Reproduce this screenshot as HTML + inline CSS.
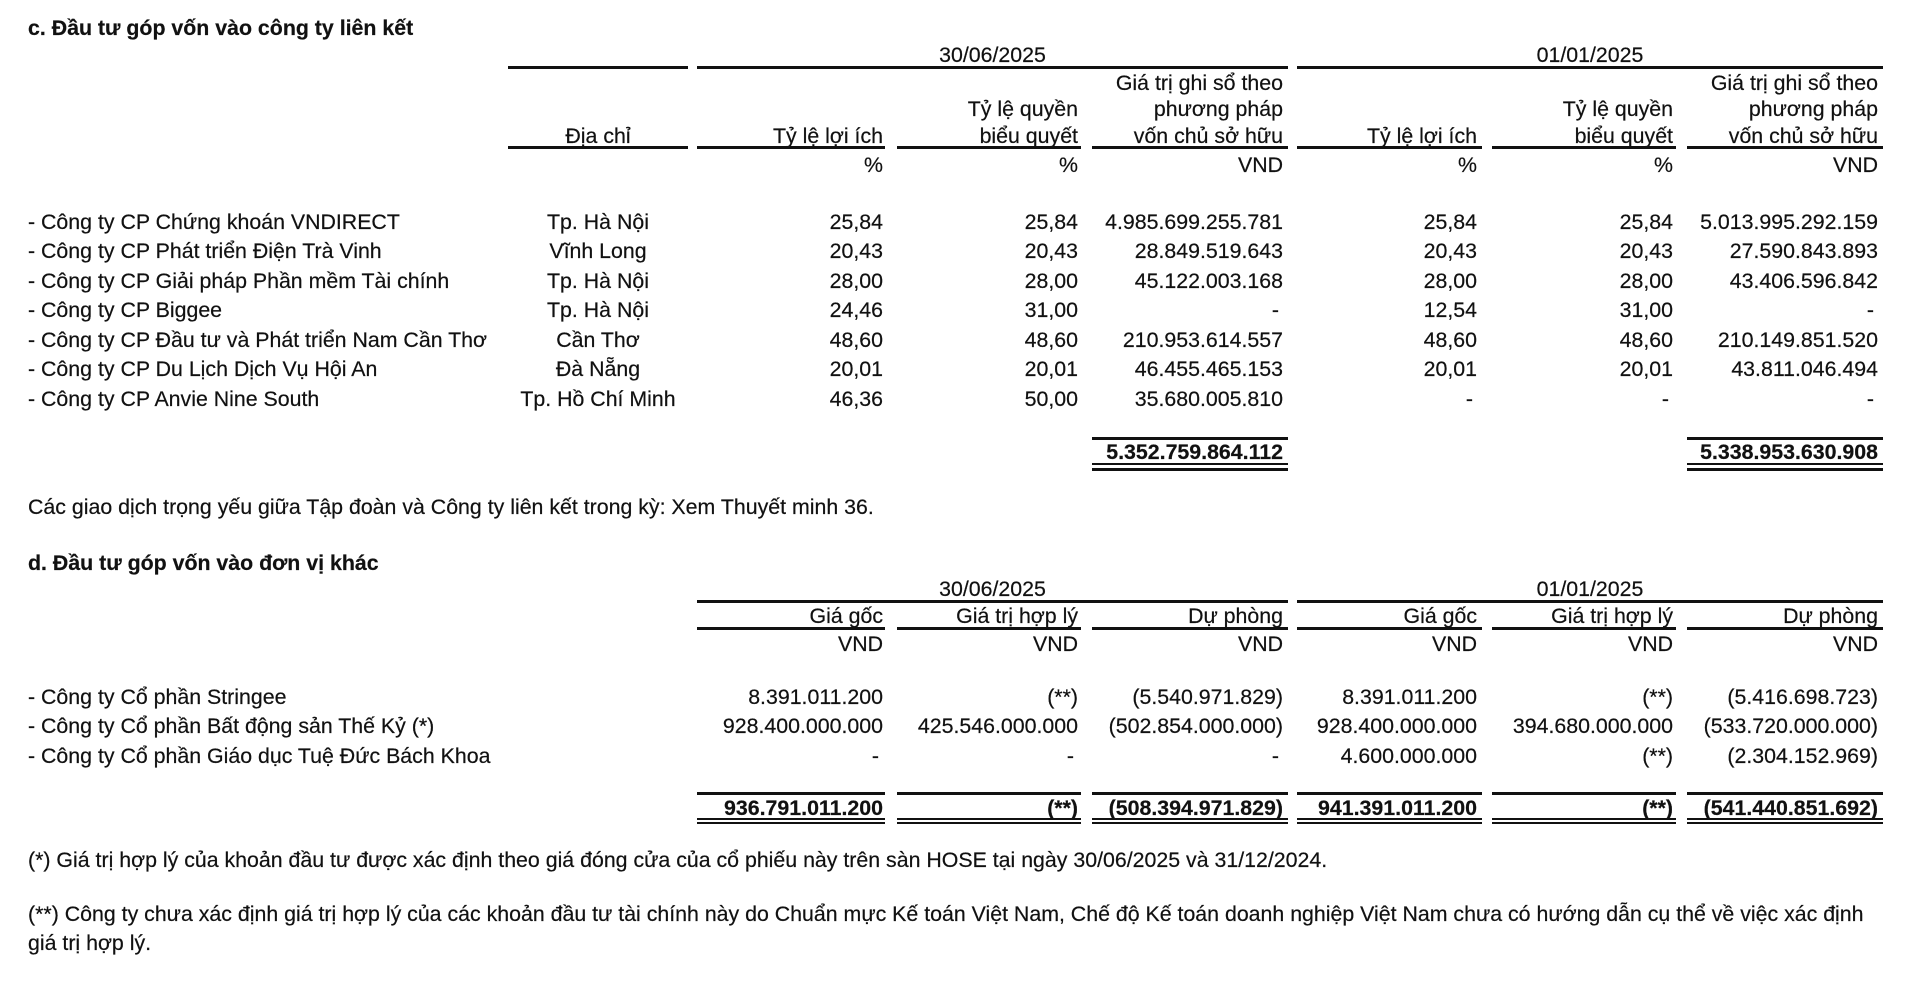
<!DOCTYPE html>
<html><head><meta charset="utf-8">
<style>
html,body{margin:0;padding:0;background:#fff;}
#w{position:relative;width:1920px;height:981px;overflow:hidden;background:#fff;}
.t{position:absolute;font-family:"Liberation Sans",Arial,sans-serif;font-size:21.33px;line-height:24px;white-space:nowrap;color:#111;-webkit-text-stroke:0.2px #111;}
.b{font-weight:bold;}
.c{text-align:center;}
.l{position:absolute;background:#111;}
</style></head><body><div id="w">

<!-- Section c -->
<div class="t b" style="left:28px;top:16px">c. Đầu tư góp vốn vào công ty liên kết</div>

<div class="t c" style="left:697px;width:591px;top:43px">30/06/2025</div>
<div class="t c" style="left:1297px;width:586px;top:43px">01/01/2025</div>
<div class="l" style="left:508px;width:180px;top:66px;height:3px"></div>
<div class="l" style="left:697px;width:591px;top:66px;height:3px"></div>
<div class="l" style="left:1297px;width:586px;top:66px;height:3px"></div>

<div class="t" style="right:637px;top:71px">Giá trị ghi sổ theo</div>
<div class="t" style="right:42px;top:71px">Giá trị ghi sổ theo</div>
<div class="t" style="right:842px;top:97px">Tỷ lệ quyền</div>
<div class="t" style="right:637px;top:97px">phương pháp</div>
<div class="t" style="right:247px;top:97px">Tỷ lệ quyền</div>
<div class="t" style="right:42px;top:97px">phương pháp</div>
<div class="t c" style="left:508px;width:180px;top:124px">Địa chỉ</div>
<div class="t" style="right:1037px;top:124px">Tỷ lệ lợi ích</div>
<div class="t" style="right:842px;top:124px">biểu quyết</div>
<div class="t" style="right:637px;top:124px">vốn chủ sở hữu</div>
<div class="t" style="right:443px;top:124px">Tỷ lệ lợi ích</div>
<div class="t" style="right:247px;top:124px">biểu quyết</div>
<div class="t" style="right:42px;top:124px">vốn chủ sở hữu</div>

<div class="l" style="left:508px;width:180px;top:146px;height:3px"></div>
<div class="l" style="left:697px;width:188px;top:146px;height:3px"></div>
<div class="l" style="left:897px;width:184px;top:146px;height:3px"></div>
<div class="l" style="left:1092px;width:196px;top:146px;height:3px"></div>
<div class="l" style="left:1297px;width:185px;top:146px;height:3px"></div>
<div class="l" style="left:1492px;width:184px;top:146px;height:3px"></div>
<div class="l" style="left:1687px;width:196px;top:146px;height:3px"></div>

<div class="t" style="right:1037px;top:153px">%</div>
<div class="t" style="right:842px;top:153px">%</div>
<div class="t" style="right:637px;top:153px">VND</div>
<div class="t" style="right:443px;top:153px">%</div>
<div class="t" style="right:247px;top:153px">%</div>
<div class="t" style="right:42px;top:153px">VND</div>

<!-- rows c -->
<div class="t" style="left:28px;top:210px">- Công ty CP Chứng khoán VNDIRECT</div>
<div class="t c" style="left:508px;width:180px;top:210px">Tp. Hà Nội</div>
<div class="t" style="right:1037px;top:210px">25,84</div>
<div class="t" style="right:842px;top:210px">25,84</div>
<div class="t" style="right:637px;top:210px">4.985.699.255.781</div>
<div class="t" style="right:443px;top:210px">25,84</div>
<div class="t" style="right:247px;top:210px">25,84</div>
<div class="t" style="right:42px;top:210px">5.013.995.292.159</div>

<div class="t" style="left:28px;top:239px">- Công ty CP Phát triển Điện Trà Vinh</div>
<div class="t c" style="left:508px;width:180px;top:239px">Vĩnh Long</div>
<div class="t" style="right:1037px;top:239px">20,43</div>
<div class="t" style="right:842px;top:239px">20,43</div>
<div class="t" style="right:637px;top:239px">28.849.519.643</div>
<div class="t" style="right:443px;top:239px">20,43</div>
<div class="t" style="right:247px;top:239px">20,43</div>
<div class="t" style="right:42px;top:239px">27.590.843.893</div>

<div class="t" style="left:28px;top:269px">- Công ty CP Giải pháp Phần mềm Tài chính</div>
<div class="t c" style="left:508px;width:180px;top:269px">Tp. Hà Nội</div>
<div class="t" style="right:1037px;top:269px">28,00</div>
<div class="t" style="right:842px;top:269px">28,00</div>
<div class="t" style="right:637px;top:269px">45.122.003.168</div>
<div class="t" style="right:443px;top:269px">28,00</div>
<div class="t" style="right:247px;top:269px">28,00</div>
<div class="t" style="right:42px;top:269px">43.406.596.842</div>

<div class="t" style="left:28px;top:298px">- Công ty CP Biggee</div>
<div class="t c" style="left:508px;width:180px;top:298px">Tp. Hà Nội</div>
<div class="t" style="right:1037px;top:298px">24,46</div>
<div class="t" style="right:842px;top:298px">31,00</div>
<div class="t" style="right:641px;top:298px">-</div>
<div class="t" style="right:443px;top:298px">12,54</div>
<div class="t" style="right:247px;top:298px">31,00</div>
<div class="t" style="right:46px;top:298px">-</div>

<div class="t" style="left:28px;top:328px">- Công ty CP Đầu tư và Phát triển Nam Cần Thơ</div>
<div class="t c" style="left:508px;width:180px;top:328px">Cần Thơ</div>
<div class="t" style="right:1037px;top:328px">48,60</div>
<div class="t" style="right:842px;top:328px">48,60</div>
<div class="t" style="right:637px;top:328px">210.953.614.557</div>
<div class="t" style="right:443px;top:328px">48,60</div>
<div class="t" style="right:247px;top:328px">48,60</div>
<div class="t" style="right:42px;top:328px">210.149.851.520</div>

<div class="t" style="left:28px;top:357px">- Công ty CP Du Lịch Dịch Vụ Hội An</div>
<div class="t c" style="left:508px;width:180px;top:357px">Đà Nẵng</div>
<div class="t" style="right:1037px;top:357px">20,01</div>
<div class="t" style="right:842px;top:357px">20,01</div>
<div class="t" style="right:637px;top:357px">46.455.465.153</div>
<div class="t" style="right:443px;top:357px">20,01</div>
<div class="t" style="right:247px;top:357px">20,01</div>
<div class="t" style="right:42px;top:357px">43.811.046.494</div>

<div class="t" style="left:28px;top:387px">- Công ty CP Anvie Nine South</div>
<div class="t c" style="left:508px;width:180px;top:387px">Tp. Hồ Chí Minh</div>
<div class="t" style="right:1037px;top:387px">46,36</div>
<div class="t" style="right:842px;top:387px">50,00</div>
<div class="t" style="right:637px;top:387px">35.680.005.810</div>
<div class="t" style="right:447px;top:387px">-</div>
<div class="t" style="right:251px;top:387px">-</div>
<div class="t" style="right:46px;top:387px">-</div>

<!-- totals c -->
<div class="l" style="left:1092px;width:196px;top:437px;height:3px"></div>
<div class="l" style="left:1687px;width:196px;top:437px;height:3px"></div>
<div class="t b" style="right:637px;top:440px">5.352.759.864.112</div>
<div class="t b" style="right:42px;top:440px">5.338.953.630.908</div>
<div class="l" style="left:1092px;width:196px;top:463px;height:2px"></div>
<div class="l" style="left:1092px;width:196px;top:468px;height:3px"></div>
<div class="l" style="left:1687px;width:196px;top:463px;height:2px"></div>
<div class="l" style="left:1687px;width:196px;top:468px;height:3px"></div>

<div class="t" style="left:28px;top:495px">Các giao dịch trọng yếu giữa Tập đoàn và Công ty liên kết trong kỳ: Xem Thuyết minh 36.</div>

<!-- Section d -->
<div class="t b" style="left:28px;top:551px">d. Đầu tư góp vốn vào đơn vị khác</div>

<div class="t c" style="left:697px;width:591px;top:577px">30/06/2025</div>
<div class="t c" style="left:1297px;width:586px;top:577px">01/01/2025</div>
<div class="l" style="left:697px;width:591px;top:600px;height:3px"></div>
<div class="l" style="left:1297px;width:586px;top:600px;height:3px"></div>

<div class="t" style="right:1037px;top:604px">Giá gốc</div>
<div class="t" style="right:842px;top:604px">Giá trị hợp lý</div>
<div class="t" style="right:637px;top:604px">Dự phòng</div>
<div class="t" style="right:443px;top:604px">Giá gốc</div>
<div class="t" style="right:247px;top:604px">Giá trị hợp lý</div>
<div class="t" style="right:42px;top:604px">Dự phòng</div>

<div class="l" style="left:697px;width:188px;top:627px;height:3px"></div>
<div class="l" style="left:897px;width:184px;top:627px;height:3px"></div>
<div class="l" style="left:1092px;width:196px;top:627px;height:3px"></div>
<div class="l" style="left:1297px;width:185px;top:627px;height:3px"></div>
<div class="l" style="left:1492px;width:184px;top:627px;height:3px"></div>
<div class="l" style="left:1687px;width:196px;top:627px;height:3px"></div>

<div class="t" style="right:1037px;top:632px">VND</div>
<div class="t" style="right:842px;top:632px">VND</div>
<div class="t" style="right:637px;top:632px">VND</div>
<div class="t" style="right:443px;top:632px">VND</div>
<div class="t" style="right:247px;top:632px">VND</div>
<div class="t" style="right:42px;top:632px">VND</div>

<div class="t" style="left:28px;top:685px">- Công ty Cổ phần Stringee</div>
<div class="t" style="right:1037px;top:685px">8.391.011.200</div>
<div class="t" style="right:842px;top:685px">(**)</div>
<div class="t" style="right:637px;top:685px">(5.540.971.829)</div>
<div class="t" style="right:443px;top:685px">8.391.011.200</div>
<div class="t" style="right:247px;top:685px">(**)</div>
<div class="t" style="right:42px;top:685px">(5.416.698.723)</div>

<div class="t" style="left:28px;top:714px">- Công ty Cổ phần Bất động sản Thế Kỷ (*)</div>
<div class="t" style="right:1037px;top:714px">928.400.000.000</div>
<div class="t" style="right:842px;top:714px">425.546.000.000</div>
<div class="t" style="right:637px;top:714px">(502.854.000.000)</div>
<div class="t" style="right:443px;top:714px">928.400.000.000</div>
<div class="t" style="right:247px;top:714px">394.680.000.000</div>
<div class="t" style="right:42px;top:714px">(533.720.000.000)</div>

<div class="t" style="left:28px;top:744px">- Công ty Cổ phần Giáo dục Tuệ Đức Bách Khoa</div>
<div class="t" style="right:1041px;top:744px">-</div>
<div class="t" style="right:846px;top:744px">-</div>
<div class="t" style="right:641px;top:744px">-</div>
<div class="t" style="right:443px;top:744px">4.600.000.000</div>
<div class="t" style="right:247px;top:744px">(**)</div>
<div class="t" style="right:42px;top:744px">(2.304.152.969)</div>

<!-- totals d -->
<div class="l" style="left:697px;width:188px;top:792px;height:3px"></div>
<div class="l" style="left:897px;width:184px;top:792px;height:3px"></div>
<div class="l" style="left:1092px;width:196px;top:792px;height:3px"></div>
<div class="l" style="left:1297px;width:185px;top:792px;height:3px"></div>
<div class="l" style="left:1492px;width:184px;top:792px;height:3px"></div>
<div class="l" style="left:1687px;width:196px;top:792px;height:3px"></div>

<div class="t b" style="right:1037px;top:796px">936.791.011.200</div>
<div class="t b" style="right:842px;top:796px">(**)</div>
<div class="t b" style="right:637px;top:796px">(508.394.971.829)</div>
<div class="t b" style="right:443px;top:796px">941.391.011.200</div>
<div class="t b" style="right:247px;top:796px">(**)</div>
<div class="t b" style="right:42px;top:796px">(541.440.851.692)</div>

<div class="l" style="left:697px;width:188px;top:818px;height:2px"></div>
<div class="l" style="left:897px;width:184px;top:818px;height:2px"></div>
<div class="l" style="left:1092px;width:196px;top:818px;height:2px"></div>
<div class="l" style="left:1297px;width:185px;top:818px;height:2px"></div>
<div class="l" style="left:1492px;width:184px;top:818px;height:2px"></div>
<div class="l" style="left:1687px;width:196px;top:818px;height:2px"></div>
<div class="l" style="left:697px;width:188px;top:822px;height:2px"></div>
<div class="l" style="left:897px;width:184px;top:822px;height:2px"></div>
<div class="l" style="left:1092px;width:196px;top:822px;height:2px"></div>
<div class="l" style="left:1297px;width:185px;top:822px;height:2px"></div>
<div class="l" style="left:1492px;width:184px;top:822px;height:2px"></div>
<div class="l" style="left:1687px;width:196px;top:822px;height:2px"></div>

<div class="t" style="left:28px;top:848px">(*) Giá trị hợp lý của khoản đầu tư được xác định theo giá đóng cửa của cổ phiếu này trên sàn HOSE tại ngày 30/06/2025 và 31/12/2024.</div>
<div class="t" style="left:28px;top:902px">(**) Công ty chưa xác định giá trị hợp lý của các khoản đầu tư tài chính này do Chuẩn mực Kế toán Việt Nam, Chế độ Kế toán doanh nghiệp Việt Nam chưa có hướng dẫn cụ thể về việc xác định</div>
<div class="t" style="left:28px;top:931px">giá trị hợp lý.</div>

</div></body></html>
